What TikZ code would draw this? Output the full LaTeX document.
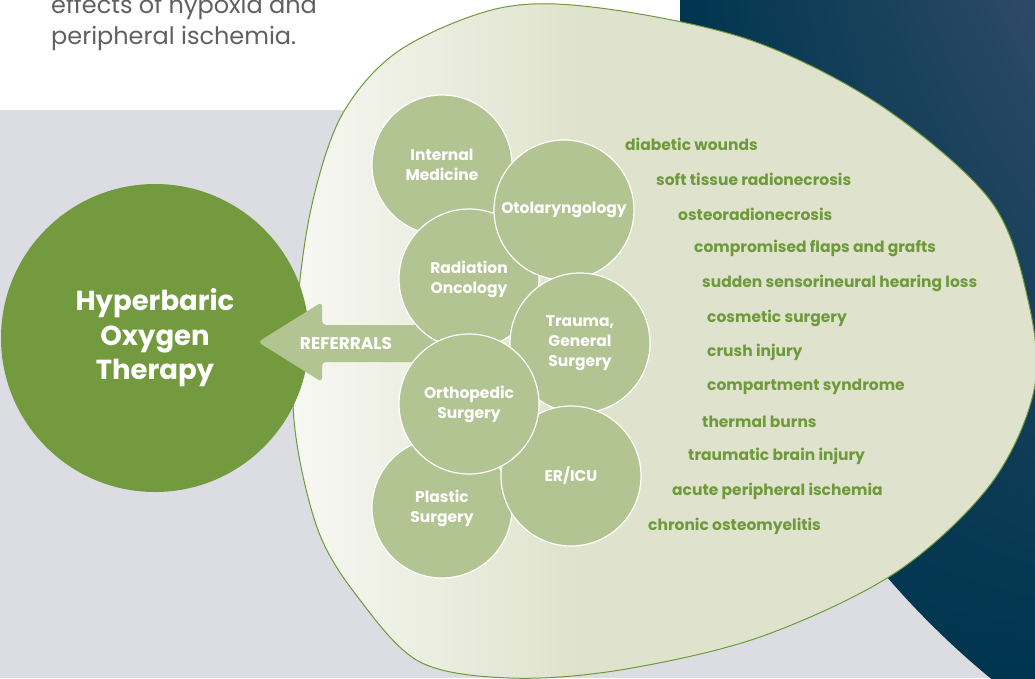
\documentclass[tikz,border=0pt]{standalone}
\usepackage{fontspec}
\setmainfont{Poppins}
\usetikzlibrary{shadings}
\definecolor{bggrey}{HTML}{DCDDE2}
\definecolor{introgrey}{HTML}{5F6062}
\definecolor{navydark}{HTML}{00354F}
\definecolor{navylight}{HTML}{2D4A66}
\definecolor{blobpale}{HTML}{F7F8F3}
\definecolor{blobfill}{HTML}{DFE3CD}
\definecolor{blobedge}{HTML}{6E9A3A}
\definecolor{hbogreen}{HTML}{739A3E}
\definecolor{specfill}{HTML}{B3C493}
\definecolor{condgreen}{HTML}{6F9A3C}
\pgfdeclarehorizontalshading{blobshade}{100bp}{color(0bp)=(blobpale); color(25bp)=(blobpale); color(44bp)=(blobfill); color(100bp)=(blobfill)}
\tikzset{
  spec/.style={circle, minimum size=140pt, inner sep=0pt, fill=specfill, draw=white, line width=1.2pt, text=white, align=center, font=\bfseries\fontsize{15.5}{20}\selectfont},
  cond/.style={anchor=west, inner sep=0pt, text=condgreen, font=\bfseries\fontsize{15.5}{16}\selectfont},
  intro/.style={anchor=base west, inner sep=0pt, text=introgrey, font=\fontsize{24}{25}\selectfont}
}
\begin{document}
\begin{tikzpicture}[x=1pt,y=-1pt]
  \useasboundingbox (0,0) rectangle (1035,678);
  \clip (0,0) rectangle (1035,678);
  \fill[white] (0,0) rectangle (1035,110);
  \fill[bggrey] (0,110) rectangle (1035,678);
  \node[intro] (intro1) at (51,13) {effects of hypoxia and};
  \node[intro] (intro2) at (51,44) {peripheral ischemia.};
  \begin{scope}
    \clip (1533,20) circle (853);
    \shade[upper right=navylight, upper left=navydark, lower left=navydark, lower right=navydark] (680,0) rectangle (1035,678);
  \end{scope}
  \path[shading=blobshade, draw=blobedge, line width=1pt] plot[smooth cycle, tension=0.55] coordinates {(313,200) (343,113) (400,50) (500,8) (600,8) (750,40) (880,105) (990,200) (1028,300) (1034,390) (990,485) (895,573) (760,637) (620,670) (510,678) (420,662) (360,600) (318,530) (294,420) (298,300)};
  \node[circle, minimum size=308pt, inner sep=0pt, fill=hbogreen, text=white, align=center, font=\bfseries\fontsize{27.5}{34.5}\selectfont] (hbot) at (155,338) {Hyperbaric\\Oxygen\\Therapy};
  \fill[specfill, rounded corners=4pt] (440,325) -- (322,325) -- (322,302) -- (258,342) -- (322,382) -- (322,362) -- (440,362) -- cycle;
  \foreach \nm/\x/\y/\txt in {intmed/442/165/{Internal\\Medicine}, radonc/469/279/{Radiation\\Oncology}, otolar/564/210/{Otolaryngology}, trauma/580/343/{Trauma,\\General\\Surgery}, plastic/442/508/{Plastic\\Surgery}, ericu/571/476/{ER/ICU}, ortho/469/404/{Orthopedic\\Surgery}}
    \node[spec] (\nm) at (\x,\y) {\txt};
  \node[inner sep=0pt, text=white, font=\bfseries\fontsize{17}{18}\selectfont] (referrals) at (346,343) {REFERRALS};
  \foreach \nm/\x/\y/\txt in {c1/625/144/{diabetic wounds}, c2/656/179/{soft tissue radionecrosis}, c3/678/214/{osteoradionecrosis}, c4/694/248/{compromised flaps and grafts}, c5/702/283/{sudden sensorineural hearing loss}, c6/707/318/{cosmetic surgery}, c7/707/352/{crush injury}, c8/707/387/{compartment syndrome}, c9/702/422/{thermal burns}, c10/688/456/{traumatic brain injury}, c11/672/491/{acute peripheral ischemia}, c12/648/526/{chronic osteomyelitis}}
    \node[cond] (\nm) at (\x,\y) {\txt};
\end{tikzpicture}
\end{document}
